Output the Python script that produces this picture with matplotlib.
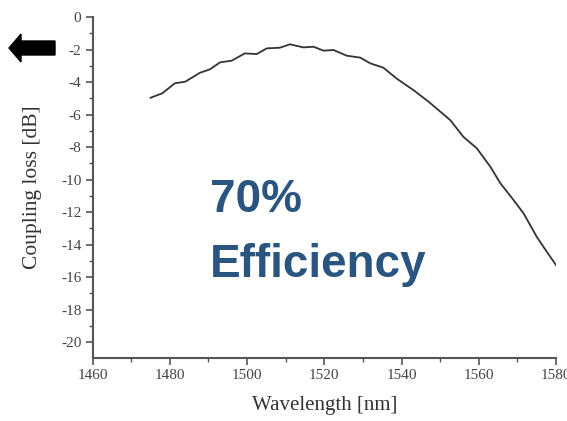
import matplotlib
matplotlib.use("Agg")
import matplotlib.pyplot as plt
from matplotlib.patches import Polygon

wavelength = [1475, 1478, 1481.3, 1484, 1487.8, 1490.4, 1493, 1496, 1499.4, 1502.5,
              1505.1, 1508.5, 1511.1, 1514.6, 1517.2, 1519.8, 1522.4, 1525.8, 1529.3,
              1531.9, 1535.3, 1538.8, 1543.1, 1547, 1552.6, 1556, 1559.5, 1563, 1565.5,
              1569, 1571.6, 1575, 1577.6, 1580]
coupling_loss = [-4.97, -4.7, -4.08, -3.98, -3.43, -3.22, -2.79, -2.69, -2.24, -2.28,
                 -1.93, -1.89, -1.68, -1.87, -1.83, -2.07, -2.03, -2.38, -2.5,
                 -2.85, -3.12, -3.8, -4.5, -5.21, -6.34, -7.37, -8.08, -9.21, -10.2,
                 -11.26, -12.08, -13.52, -14.44, -15.26]
x_ticks = [1460, 1480, 1500, 1520, 1540, 1560, 1580]
y_ticks = [0, -2, -4, -6, -8, -10, -12, -14, -16, -18, -20]

W, H = 567, 421
fig = plt.figure(figsize=(W / 100, H / 100), dpi=100)
ax = fig.add_axes([92.6 / W, 1 - 358.3 / H, (556 - 92.6) / W, (358.3 - 17) / H])

ax.plot(wavelength, coupling_loss, color="#333333", lw=1.3)
ax.set_xlim(1460, 1580)
ax.set_ylim(-21, 0)
ax.set_xticks(x_ticks)
ax.set_yticks(y_ticks)
ax.set_xticks([1470, 1490, 1510, 1530, 1550, 1570], minor=True)
ax.set_yticks(list(range(-1, -21, -2)), minor=True)

serif = ["Liberation Serif", "DejaVu Serif"]
ax.set_xticklabels([str(v) for v in x_ticks], family=serif, fontsize=11, color="#444444")
ax.set_yticklabels([str(v) for v in y_ticks], family=serif, fontsize=11, color="#444444")
ax.set_xlabel("Wavelength [nm]", family=serif, fontsize=15, color="#333333", labelpad=10)
ax.set_ylabel("Coupling loss [dB]", family=serif, fontsize=15.5, color="#333333", labelpad=14)

for s in ["top", "right"]:
    ax.spines[s].set_visible(False)
for s in ["left", "bottom"]:
    ax.spines[s].set_color("#555555")
    ax.spines[s].set_linewidth(1.5)
ax.tick_params(which="major", direction="out", length=5, width=1.2, color="#555555", pad=3)
ax.tick_params(which="minor", direction="out", length=3, width=1.0, color="#555555")

txt_color = "#2A5580"
sans = ["Liberation Sans", "DejaVu Sans"]
fig.text(210 / W, 1 - 212 / H, "70%", family=sans, fontweight="bold", fontsize=33,
         color=txt_color, va="baseline", ha="left")
fig.text(210 / W, 1 - 277 / H, "Efficiency", family=sans, fontweight="bold", fontsize=33,
         color=txt_color, va="baseline", ha="left")

verts_px = [(9, 48), (21, 34), (21, 41), (55, 41), (55, 55), (21, 55), (21, 62)]
verts = [(x / 100, (H - y) / 100) for x, y in verts_px]
fig.patches.append(Polygon(verts, closed=True, facecolor="black", edgecolor="black",
                           transform=fig.dpi_scale_trans))

fig.savefig("out.png", dpi=100)
